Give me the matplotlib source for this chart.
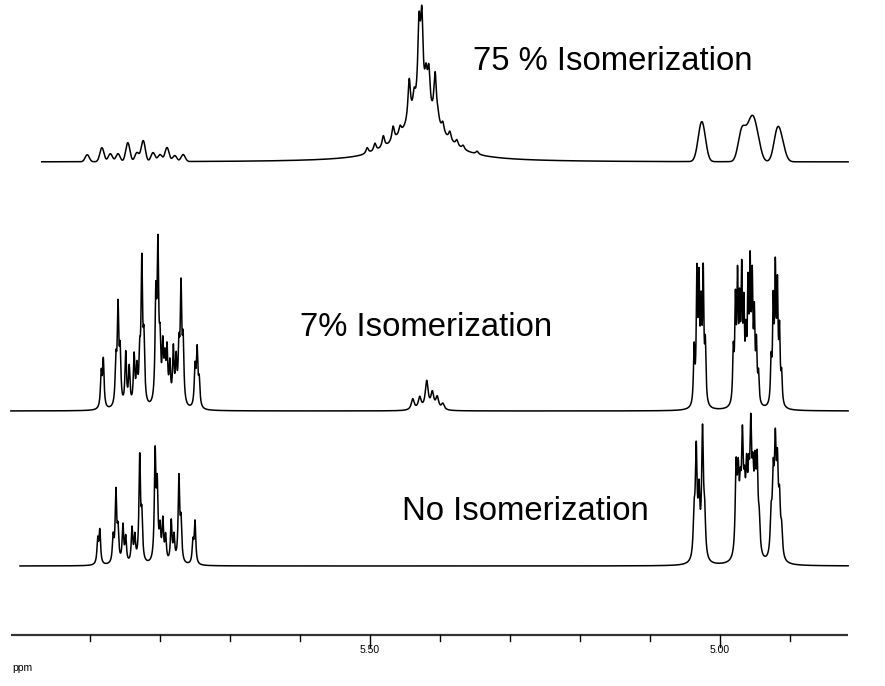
"""
1H NMR stacked spectra: olefinic region, three isomerization levels.
"""

import numpy as np
import matplotlib.pyplot as plt

plt.rcParams["font.family"] = ["Liberation Sans", "DejaVu Sans"]

# ── data ─────────────────────────────────────────────────────────────────────
# peak lists: (shift in ppm, height in px)
NO_ISO_MULT = [
    (5.889, 24), (5.886, 33), (5.867, 25), (5.863, 70), (5.860, 30),
    (5.853, 37), (5.849, 25), (5.840, 34), (5.836, 25), (5.829, 104),
    (5.826, 42), (5.807, 106), (5.804, 70), (5.800, 30), (5.796, 40),
    (5.792, 25), (5.784, 41), (5.780, 25), (5.773, 84), (5.770, 38),
    (5.753, 21), (5.750, 42),
]
NO_ISO_VINYL = [
    (5.037, 40), (5.034, 105), (5.030, 60), (5.025, 125), (5.022, 40),
    (4.977, 85), (4.974, 70), (4.971, 50), (4.968, 105), (4.965, 50),
    (4.962, 70), (4.959, 60), (4.956, 112), (4.953, 62), (4.950, 72),
    (4.947, 85), (4.944, 30),
    (4.927, 38), (4.924, 72), (4.921, 100), (4.918, 80), (4.915, 50),
    (4.912, 26),
]

ISO7_MULT = [
    (5.884, 34), (5.881, 47), (5.863, 42), (5.860, 95), (5.857, 50),
    (5.849, 53), (5.844, 38), (5.837, 49), (5.833, 34), (5.829, 42),
    (5.826, 138), (5.823, 58), (5.806, 100), (5.803, 148), (5.800, 50),
    (5.796, 53), (5.793, 38), (5.790, 51), (5.786, 38), (5.781, 54),
    (5.777, 42), (5.773, 50), (5.770, 112), (5.767, 58), (5.750, 38),
    (5.747, 55), (5.744, 25),
]
ISO7_VINYL = [
    (5.037, 55), (5.033, 125), (5.030, 112), (5.027, 85), (5.024, 125),
    (5.021, 55),
    (4.981, 50), (4.978, 95), (4.975, 115), (4.972, 85), (4.969, 120),
    (4.966, 85), (4.963, 55), (4.960, 105), (4.957, 125), (4.954, 112),
    (4.951, 80), (4.948, 55), (4.945, 28),
    (4.927, 40), (4.924, 95), (4.921, 125), (4.918, 108), (4.915, 68),
    (4.912, 28),
]
ISO7_INTERNAL = [
    (5.439, 11), (5.429, 12), (5.419, 28), (5.411, 16), (5.404, 12),
    (5.396, 6),
]

ISO75_MULT = [
    (5.904, 7), (5.883, 14), (5.871, 8), (5.860, 8), (5.846, 19),
    (5.833, 9), (5.824, 21), (5.810, 9), (5.800, 7), (5.790, 14),
    (5.779, 6), (5.767, 7),
]
ISO75_INTERNAL = [
    (5.504, 6), (5.493, 8), (5.481, 12), (5.467, 15), (5.457, 8),
    (5.444, 42), (5.437, 18), (5.430, 80), (5.426, 85), (5.420, 30),
    (5.416, 40), (5.407, 48), (5.403, 8), (5.396, 10), (5.386, 9),
    (5.376, 6), (5.367, 4), (5.347, 3),
]
ISO75_ENVELOPE = [(5.426, 45)]
ISO75_VINYL = [
    (5.026, 40), (4.969, 30), (4.960, 20), (4.953, 32), (4.946, 16),
    (4.918, 30), (4.911, 12),
]

LABELS = ["75 % Isomerization", "7% Isomerization", "No Isomerization"]
TICKS = [5.90, 5.80, 5.70, 5.60, 5.50, 5.40, 5.30, 5.20, 5.10, 5.00, 4.90]
TICK_LABELS = {5.50: "5.50", 5.00: "5.00"}

# ── layout (pixel frame, y up) ───────────────────────────────────────────────
W, H = 885, 686
BASE_TOP, BASE_MID, BASE_BOT = H - 162, H - 411, H - 566
AXIS_Y = H - 635
PPM_LEFT, PPM_RIGHT = 6.0286, 4.7643      # ppm at x=0 / x=W
PX = 1 / 700                               # ppm per pixel


def lorentz(x, peaks, hw):
    y = np.zeros_like(x)
    for c, h in peaks:
        y += h / (1 + ((x - c) / hw) ** 2)
    return y


def gauss(x, peaks, hw):
    y = np.zeros_like(x)
    for c, h in peaks:
        y += h * np.exp(-np.log(2) * ((x - c) / hw) ** 2)
    return y


fig = plt.figure(figsize=(W / 100, H / 100), dpi=100)
ax = fig.add_axes([0, 0, 1, 1])
ax.set_xlim(PPM_LEFT, PPM_RIGHT)
ax.set_ylim(0, H)
ax.axis("off")

# top trace: 75 %
x = np.linspace(5.969, 4.817, 20000)
y = (gauss(x, ISO75_MULT, 0.0035) + lorentz(x, ISO75_INTERNAL, 0.0022)
     + lorentz(x, ISO75_ENVELOPE, 0.035) + gauss(x, ISO75_VINYL, 0.006))
ax.plot(x, BASE_TOP + y, color="black", lw=1.1)

# middle trace: 7 %
x = np.linspace(6.013, 4.817, 20000)
y = (lorentz(x, ISO7_MULT, 0.0013) + lorentz(x, ISO7_VINYL, 0.0011)
     + lorentz(x, ISO7_INTERNAL, 0.0025))
ax.plot(x, BASE_MID + y, color="black", lw=1.1)

# bottom trace: none
x = np.linspace(6.000, 4.817, 20000)
y = lorentz(x, NO_ISO_MULT, 0.0013) + lorentz(x, NO_ISO_VINYL, 0.0015)
ax.plot(x, BASE_BOT + y, color="black", lw=1.1)

# labels
ax.text(PPM_LEFT - 473 * PX, H - 62, LABELS[0], fontsize=23.7, va="center")
ax.text(PPM_LEFT - 300 * PX, H - 327, LABELS[1], fontsize=23.7, va="center")
ax.text(PPM_LEFT - 402 * PX, H - 511, LABELS[2], fontsize=23.7, va="center")

# ppm axis
ax.plot([6.013, 4.817], [AXIS_Y, AXIS_Y], color="#333333", lw=1.6,
        solid_capstyle="butt")
for t in TICKS:
    ln = 12 if t in TICK_LABELS else 6
    ax.plot([t, t], [AXIS_Y, AXIS_Y - ln], color="black", lw=1.0)
    if t in TICK_LABELS:
        ax.text(t, AXIS_Y - 15, TICK_LABELS[t], fontsize=7.5,
                ha="center", va="center")
ax.text(PPM_LEFT - 12 * PX, H - 668, "ppm", fontsize=7.5, va="center")

fig.savefig("out.png", dpi=100)
plt.close(fig)
